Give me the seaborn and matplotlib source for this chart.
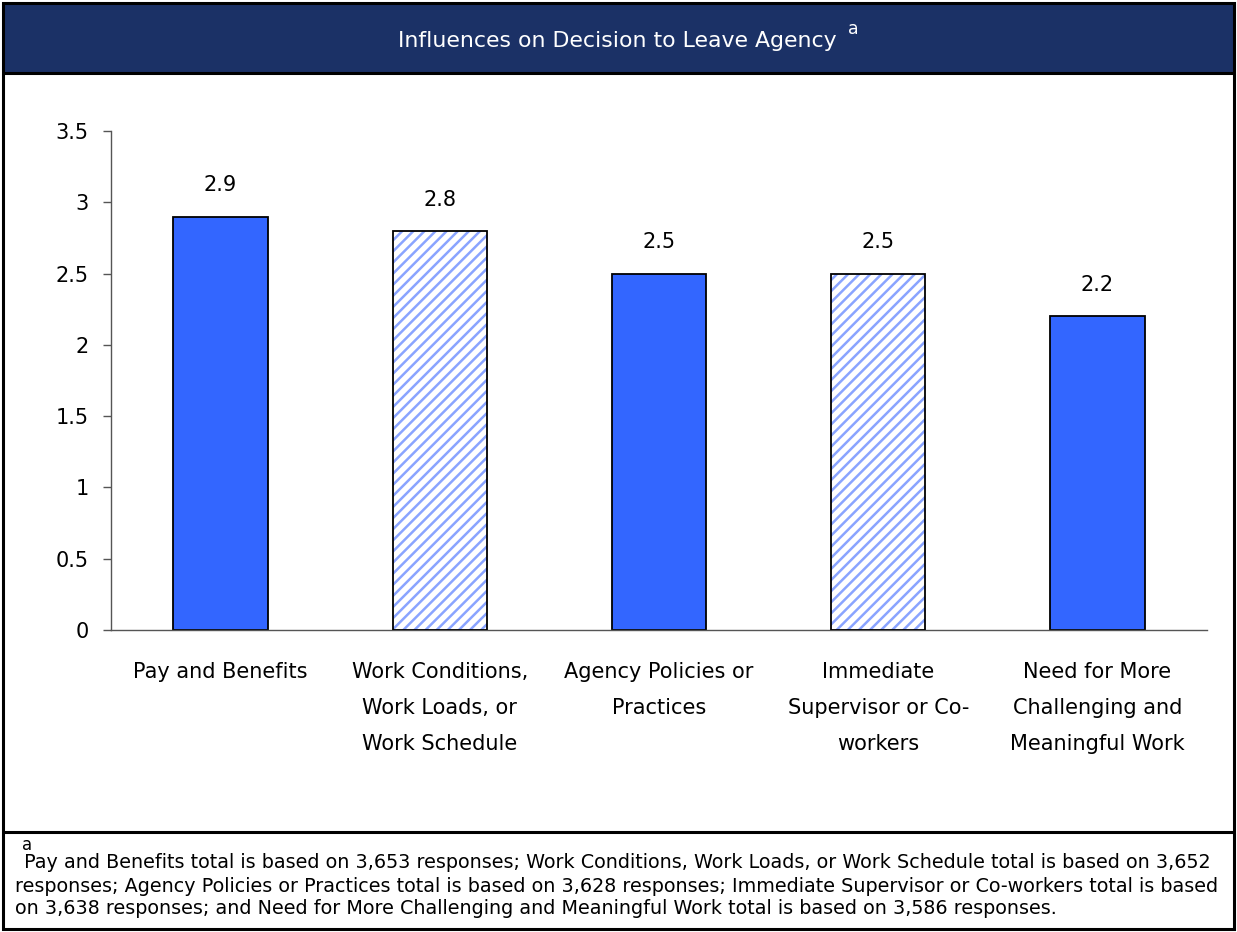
import numpy as np
import pandas as pd
import matplotlib
matplotlib.use("Agg")
import matplotlib.pyplot as plt
from matplotlib.patches import Rectangle
from matplotlib.lines import Line2D
import seaborn as sns

# ─────────────────────────────────────────────
# DATA
# ─────────────────────────────────────────────
categories = [
    "Pay and Benefits",
    "Work Conditions,\nWork Loads, or\nWork Schedule",
    "Agency Policies or\nPractices",
    "Immediate\nSupervisor or Co-\nworkers",
    "Need for More\nChallenging and\nMeaningful Work",
]
values = [2.9, 2.8, 2.5, 2.5, 2.2]
hatched = [False, True, False, True, False]
y_ticks = [0, 0.5, 1, 1.5, 2, 2.5, 3, 3.5]
y_tick_labels = ["0", "0.5", "1", "1.5", "2", "2.5", "3", "3.5"]

title = "Influences on Decision to Leave Agency"
footnote_lines = [
    " Pay and Benefits total is based on 3,653 responses; Work Conditions, Work Loads, or Work Schedule total is based on 3,652",
    "responses; Agency Policies or Practices total is based on 3,628 responses; Immediate Supervisor or Co-workers total is based",
    "on 3,638 responses; and Need for More Challenging and Meaningful Work total is based on 3,586 responses.",
]

BLUE = "#3366ff"
HATCH_BLUE = "#8aa4ff"
NAVY = "#1b3166"

sns.set_theme(style="white")
plt.rcParams["font.family"] = ["DejaVu Sans"]
plt.rcParams["hatch.linewidth"] = 1.8
plt.rcParams["text.color"] = "black"
plt.rcParams["xtick.labelcolor"] = "black"
plt.rcParams["ytick.labelcolor"] = "black"

W, H = 1237, 932
fig = plt.figure(figsize=(W / 100, H / 100), dpi=100)


def px(x, y):
    """pixel coords (top-left origin) -> figure fraction."""
    return x / W, 1 - y / H


# frame, header band and footer separator
fig.patches.append(Rectangle(px(3, 73), 1231 / W, 70 / H, transform=fig.transFigure,
                             facecolor=NAVY, edgecolor="none", zorder=0))
fig.patches.append(Rectangle(px(3, 929), 1231 / W, 926 / H, transform=fig.transFigure,
                             facecolor="none", edgecolor="black", linewidth=2.2, zorder=5))
for yy in (73, 832):
    fig.lines.append(Line2D([3 / W, 1234 / W], [1 - yy / H] * 2, transform=fig.transFigure,
                            color="black", linewidth=2.2, zorder=5))

tx, ty = px(398, 41)
fig.text(tx, ty, title, color="white", fontsize=15.8, ha="left", va="center")
sx, sy = px(853, 29)
fig.text(sx, sy, "a", color="white", fontsize=12.5, ha="center", va="center")

# footnote
ax_, ay_ = px(27, 845)
fig.text(ax_, ay_, "a", fontsize=12, ha="center", va="center")
for (lx, ly), line in zip([(18, 863), (15, 886), (15, 909)], footnote_lines):
    fx, fy = px(lx, ly)
    fig.text(fx, fy, line, fontsize=13.8, ha="left", va="center")

# ─────────────────────────────────────────────
# BAR CHART
# ─────────────────────────────────────────────
l, b = px(111, 630)
r, t = px(1207, 131)
ax = fig.add_axes([l, b, r - l, t - b])

df = pd.DataFrame({"category": categories, "value": values})
sns.barplot(data=df, x="category", y="value", color=BLUE, width=0.43,
            saturation=1, edgecolor="black", linewidth=1.3, ax=ax)

for patch, h in zip(ax.patches, hatched):
    if h:
        patch.set_facecolor("white")
        patch.set_edgecolor(HATCH_BLUE)
        patch.set_linewidth(0)
        patch.set_hatch("///")
        ax.add_patch(Rectangle((patch.get_x(), patch.get_y()), patch.get_width(),
                               patch.get_height(), facecolor="none",
                               edgecolor="black", linewidth=1.3, zorder=3))

for i, v in enumerate(values):
    ax.annotate(f"{v:.1f}", (i, v), xytext=(0, 22.5), textcoords="offset points",
                ha="center", va="center", fontsize=15, color="black")

ax.set_ylim(0, 3.5)
ax.set_xlim(-0.5, len(categories) - 0.5)
ax.set_yticks(y_ticks)
ax.set_yticklabels(y_tick_labels, fontsize=15)
ax.set_xticks(range(len(categories)))
ax.set_xticklabels(categories, fontsize=15, linespacing=2.0, va="top")
ax.set_xticks(np.arange(-0.5, len(categories), 1), minor=True)
ax.tick_params(axis="x", which="major", length=0, pad=23)
ax.tick_params(axis="x", which="minor", length=6, width=1, color="#555555", direction="out")
ax.tick_params(axis="y", length=6, width=1, color="#555555", direction="out", pad=10, left=True)
ax.set_xlabel("")
ax.set_ylabel("")
for side in ("top", "right"):
    ax.spines[side].set_visible(False)
for side in ("left", "bottom"):
    ax.spines[side].set_color("#555555")
    ax.spines[side].set_linewidth(1)
ax.set_facecolor("none")

fig.savefig("out.png", dpi=100)
